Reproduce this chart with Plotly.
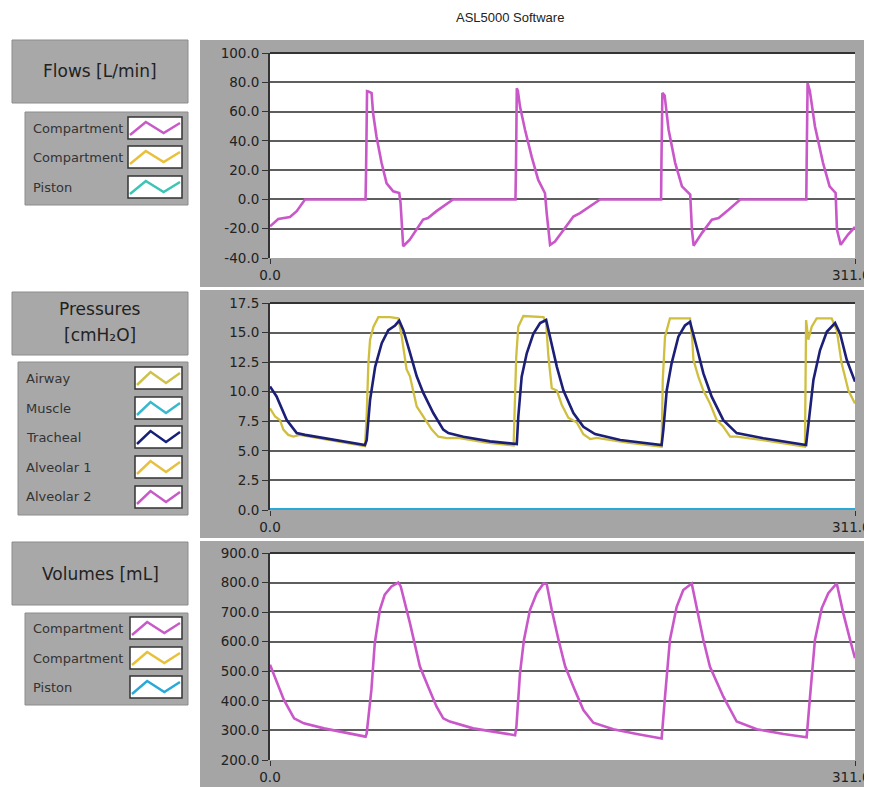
import plotly.graph_objects as go

# page is 872x787; the browser puts an 8px body margin round the figure
PAGE_W, PAGE_H = 872, 787
OFF = 8
W, H = PAGE_W - OFF, PAGE_H - OFF

# ---------------- data ----------------
flow_t = [0, 4.4, 10.6, 14.2, 18.6, 30, 40, 50.8,
          51.1, 51.6, 52.3, 54.0, 54.8, 56.6, 59.3, 62, 65.5, 68.7, 69.4, 70.8, 74.3, 77.8, 81.4, 84, 88.5, 97.3, 110, 120, 130.5,
          130.8, 131.2, 131.8, 132.9, 135.6, 139.1, 142.6, 146.2, 147.1, 148.9, 151.5, 156, 161.3, 164.8, 170.2, 175.5, 190, 200, 207.9,
          208.1, 208.6, 209.8, 211.9, 215.4, 219, 223.4, 224.3, 225.2, 229.6, 234.9, 238.5, 243.8, 250, 265, 275, 285.1,
          285.3, 285.8, 287, 289.7, 294, 297.5, 300.7, 301.4, 303.4, 307.3, 311]
flow_v = [-18.4, -13.4, -12, -8, 0, 0, 0, 0,
          22, 74, 73.8, 72.7, 59, 43, 25, 11, 5.5, 4.4, -2.4, -32, -27.5, -20.6, -13.8, -12.7, -8, 0, 0, 0, 0,
          25, 75.9, 74, 63.4, 47.4, 29.2, 13.3, 4.2, -9.4, -31, -28.7, -20.8, -11.7, -9.4, -4.9, 0, 0, 0, 0,
          25, 72.7, 71, 47.6, 25, 8.9, 3.3, -20.6, -31.6, -23, -13.8, -12.7, -7, 0, 0, 0, 0,
          25, 79.5, 74, 50, 25, 9, 4.4, -20.6, -31, -24, -18.8]

trach_t = [0, 3.5, 8.9, 14.2, 18.6, 28.4, 39, 50.5,
           51.4, 52.3, 53.2, 55.9, 59.4, 62.9, 66.5, 68.7,
           70.9, 74.4, 78, 81.5, 86.8, 92.1, 94.8, 102.8, 117, 131.2,
           132, 133.8, 136.5, 140, 143.6, 146.8,
           149.8, 152.5, 156, 161.3, 166.6, 172.8, 186.2, 208.2,
           209.1, 210.9, 213.5, 217.1, 220.6, 223.3,
           226.8, 230.4, 234.8, 241, 248.1, 262.3, 285,
           286.2, 288.9, 292.4, 296, 300.4, 303.1, 306.6, 311]
trach_v = [10.44, 9.6, 7.6, 6.5, 6.35, 6.07, 5.8, 5.5,
           5.9, 7.6, 9.3, 12.1, 14.1, 15.2, 15.6, 16.0,
           15.2, 13.3, 11.3, 9.9, 8.2, 6.8, 6.5, 6.2, 5.8, 5.58,
           7.9, 11.27, 13.25, 14.9, 15.8, 16.06,
           14.1, 12.1, 10.1, 8.2, 7.04, 6.42, 5.92, 5.5,
           6.76, 10.1, 12.4, 14.65, 15.6, 15.9,
           13.8, 11.55, 9.58, 7.6, 6.5, 6.06, 5.5,
           7.33, 11.0, 13.5, 15.07, 15.8, 14.9, 12.7, 10.85]

airway_t = [0, 2.7, 5.3, 7.1, 9.7, 12.4, 15.9, 21.3, 28.4, 39, 50.5,
            51.4, 52.3, 53.2, 55, 57.6, 63.8, 68.2, 70, 72.6, 74.4, 78, 81.5, 86, 89.5, 94, 100, 115, 129.5,
            130.9, 132, 134.7, 145.4, 146.8, 148, 149.8, 152.5, 155.1, 158.6, 163.1, 166.6, 170.2, 173.7, 190, 208.2,
            208.8, 210, 212.6, 223.3, 224.5, 225.1, 227.7, 230.4, 233.9, 237.5, 241, 244.6, 248, 262, 284.4,
            285, 286.2, 288, 290.6, 298.6, 301.3, 303.9, 307.5, 311]
airway_v = [8.6, 7.9, 7.6, 6.8, 6.35, 6.2, 6.35, 6.2, 6.0, 5.7, 5.4,
            8.0, 12.4, 14.4, 15.5, 16.3, 16.3, 16.2, 14.7, 11.9, 11.3, 8.75, 7.9, 6.8, 6.2, 6.07, 6.1, 5.7, 5.45,
            12.96, 15.5, 16.4, 16.3, 15.8, 13.0, 10.3, 10.1, 8.9, 7.8, 7.4, 6.4, 6.0, 6.1, 5.7, 5.35,
            11.0, 14.65, 16.2, 16.2, 14.4, 12.7, 11.27, 10.1, 9.0, 7.6, 7.04, 6.2, 6.2, 5.9, 5.35,
            16.06, 14.4, 15.5, 16.2, 16.2, 15.2, 12.4, 10.1, 9.0]

muscle_t = [0, 311]
muscle_v = [0, 0]

vol_t = [0, 3, 7.4, 12.8, 18, 28.7, 39.3, 50.8,
         51.4, 53.9, 55.7, 58.4, 61, 64.6, 68.2, 69.5, 74.4, 79.7, 84.1, 88.5, 92.1, 95.6, 108, 120.4, 130.3,
         131, 132.9, 135, 138.2, 141.8, 145.4, 147.1, 149.8, 153.4, 156.9, 161.3, 166.6, 171.9, 182.5, 195, 208.2,
         210, 212.6, 216.2, 219.7, 224.2, 226.8, 230.4, 233.9, 241, 248.1, 258.8, 273, 285.3,
         287.1, 289.7, 293.3, 296.8, 301.3, 304.8, 308.4, 311]
vol_v = [522, 471, 403, 341, 324, 307, 294, 279,
         290, 437, 595, 708, 759, 787, 800, 787, 663, 516, 448, 381, 341, 330, 307, 293, 284,
         313, 493, 606, 707, 764, 797, 795, 707, 606, 517, 448, 369, 326, 304, 288, 273,
         414, 606, 718, 775, 797, 718, 606, 515, 414, 330, 304, 288, 277,
         414, 606, 713, 764, 797, 696, 606, 544]

x_ticks = [0, 311]
x_ticktext = ["0.0", "311.0"]

flow_ticks = [-40, -20, 0, 20, 40, 60, 80, 100]
press_ticks = [0, 2.5, 5, 7.5, 10, 12.5, 15, 17.5]
vol_ticks = [200, 300, 400, 500, 600, 700, 800, 900]

flow_legend = ["Compartment", "Compartment", "Piston"]
flow_colors = ["#c85ac8", "#e8c03a", "#3cc4b4"]
press_legend = ["Airway", "Muscle", "Tracheal", "Alveolar 1", "Alveolar 2"]
press_colors = ["#cfc24a", "#38b8cf", "#14207a", "#e8c040", "#c85ac8"]
vol_legend = ["Compartment", "Compartment", "Piston"]
vol_colors = ["#c85ac8", "#e8c03a", "#29a9d8"]

MAGENTA = "#c957c9"
NAVY = "#1b1f77"
OLIVE = "#d0bf3e"
BLUE = "#2aa8d8"

GREY = "#a5a5a5"
FONT = "DejaVu Sans"


def X(px):
    # page pixel -> paper fraction
    return (px - OFF) / W


def Y(py):
    return 1 - (py - OFF) / H


fig = go.Figure()

# plot area in page pixels: (top, bottom)
PX0, PX1 = 270, 855
areas = [(53, 258), (303, 510), (553, 760)]

fig.add_trace(go.Scatter(x=flow_t, y=flow_v, mode="lines", line=dict(color=MAGENTA, width=2.6),
                         xaxis="x", yaxis="y", showlegend=False))
fig.add_trace(go.Scatter(x=muscle_t, y=muscle_v, mode="lines", line=dict(color=BLUE, width=4),
                         xaxis="x2", yaxis="y2", showlegend=False))
fig.add_trace(go.Scatter(x=airway_t, y=airway_v, mode="lines", line=dict(color=OLIVE, width=2.3),
                         xaxis="x2", yaxis="y2", showlegend=False))
fig.add_trace(go.Scatter(x=trach_t, y=trach_v, mode="lines", line=dict(color=NAVY, width=2.6),
                         xaxis="x2", yaxis="y2", showlegend=False))
fig.add_trace(go.Scatter(x=vol_t, y=vol_v, mode="lines", line=dict(color=MAGENTA, width=2.6),
                         xaxis="x3", yaxis="y3", showlegend=False))

tickfont = dict(family=FONT, size=13.5, color="#222")


def xa(anchor):
    # the right-hand label is written as an annotation so that it stays inside the page
    return dict(domain=[X(PX0), X(PX1)], range=[0, 311], anchor=anchor,
                tickvals=x_ticks, ticktext=[x_ticktext[0], ""], ticks="outside", ticklen=5,
                tickcolor="#333", showgrid=False, zeroline=False, showline=False,
                tickfont=tickfont, fixedrange=True, automargin=False)


def ya(anchor, area, rng, tv, fmt):
    return dict(domain=[Y(area[1]), Y(area[0])], range=rng, anchor=anchor,
                tickvals=tv, ticktext=[fmt.format(v) for v in tv], ticks="outside", ticklen=6,
                tickcolor="#333", showgrid=True, gridcolor="#5e5e5e", gridwidth=1.6,
                zeroline=False, showline=True, linecolor="#333", linewidth=2,
                tickfont=tickfont, fixedrange=True, automargin=False)


shapes = []
annotations = []

# grey panels
panels = [(40, 287), (290, 538), (541, 787)]
for (t, b) in panels:
    shapes.append(dict(type="rect", xref="paper", yref="paper", x0=X(200), x1=X(872), y0=Y(b), y1=Y(t),
                       fillcolor=GREY, line=dict(width=0), layer="below"))
for i, (t, b) in enumerate(areas):
    shapes.append(dict(type="rect", xref="paper", yref="paper", x0=X(PX0), x1=X(PX1), y0=Y(b), y1=Y(t),
                       fillcolor="white", line=dict(width=0), layer="below"))
    shapes.append(dict(type="line", xref="paper", yref="paper", x0=X(PX0), x1=X(PX1), y0=Y(t), y1=Y(t),
                       line=dict(color="#333", width=2)))
    annotations.append(dict(x=X(871.5), y=Y(b + 8), xref="paper", yref="paper", text=x_ticktext[1],
                            showarrow=False, xanchor="right", yanchor="top",
                            font=tickfont, borderpad=0))

# left title boxes
title_boxes = [((12, 40, 188, 103), ["Flows [L/min]"]),
               ((12, 292, 188, 355), ["Pressures", "[cmH₂O]"]),
               ((12, 542, 188, 605), ["Volumes [mL]"])]
for (x0, y0, x1, y1), lines in title_boxes:
    shapes.append(dict(type="rect", xref="paper", yref="paper", x0=X(x0), x1=X(x1), y0=Y(y1), y1=Y(y0),
                       fillcolor="#a8a8a8", line=dict(color="#8c8c8c", width=1), layer="below"))
    if len(lines) == 1:
        annotations.append(dict(x=X((x0 + x1) / 2), y=Y((y0 + y1) / 2), xref="paper", yref="paper",
                                text=lines[0], showarrow=False, xanchor="center", yanchor="middle",
                                font=dict(family=FONT, size=17, color="#222")))
    else:
        annotations.append(dict(x=X((x0 + x1) / 2), y=Y(y0 + 17), xref="paper", yref="paper",
                                text=lines[0], showarrow=False, xanchor="center", yanchor="middle",
                                font=dict(family=FONT, size=17, color="#222")))
        annotations.append(dict(x=X((x0 + x1) / 2), y=Y(y0 + 43), xref="paper", yref="paper",
                                text=lines[1], showarrow=False, xanchor="center", yanchor="middle",
                                font=dict(family=FONT, size=17, color="#222")))

# legend boxes
legend_boxes = [((25, 112, 188, 205), flow_legend, flow_colors, [128, 157, 187], 128),
                ((18, 362, 188, 515), press_legend, press_colors, [378, 408, 437, 467, 497], 135),
                ((25, 613, 188, 705), vol_legend, vol_colors, [628, 658, 687], 130)]
for (x0, y0, x1, y1), names, cols, rows, sx in legend_boxes:
    shapes.append(dict(type="rect", xref="paper", yref="paper", x0=X(x0), x1=X(x1), y0=Y(y1), y1=Y(y0),
                       fillcolor="#a8a8a8", line=dict(color="#8c8c8c", width=1), layer="below"))
    for name, col, ry in zip(names, cols, rows):
        annotations.append(dict(x=X(x0 + 6), y=Y(ry), xref="paper", yref="paper", text=name,
                                showarrow=False, xanchor="left", yanchor="middle",
                                font=dict(family=FONT, size=13, color="#333")))
        bx0, bx1 = sx, 182
        by0, by1 = ry - 11, ry + 11
        shapes.append(dict(type="rect", xref="paper", yref="paper", x0=X(bx0), x1=X(bx1), y0=Y(by1), y1=Y(by0),
                           fillcolor="white", line=dict(color="#333", width=1.5)))
        wdt = bx1 - bx0
        pts = [(bx0 + 2, ry + 7), (bx0 + wdt * 0.33, ry - 6), (bx0 + wdt * 0.66, ry + 5), (bx1 - 2, ry - 5)]
        path = "M " + " L ".join(f"{X(px):.5f},{Y(py):.5f}" for px, py in pts)
        shapes.append(dict(type="path", xref="paper", yref="paper", path=path,
                           line=dict(color=col, width=2.5)))

annotations.append(dict(x=X(510), y=Y(17), xref="paper", yref="paper", text="ASL5000 Software",
                        showarrow=False, xanchor="center", yanchor="middle",
                        font=dict(family="Liberation Sans, Arial", size=13, color="#222")))

fig.update_layout(
    template="none",
    width=W, height=H, autosize=False,
    margin=dict(l=0, r=0, t=0, b=0, pad=0, autoexpand=False),
    paper_bgcolor="white", plot_bgcolor="white",
    xaxis=xa("y"), xaxis2=xa("y2"), xaxis3=xa("y3"),
    yaxis=ya("x", areas[0], [-40, 100], flow_ticks, "{:.1f}"),
    yaxis2=ya("x2", areas[1], [0, 17.5], press_ticks, "{:.1f}"),
    yaxis3=ya("x3", areas[2], [200, 900], vol_ticks, "{:.1f}"),
    shapes=shapes, annotations=annotations,
    showlegend=False,
)

fig.write_html("out.html")
